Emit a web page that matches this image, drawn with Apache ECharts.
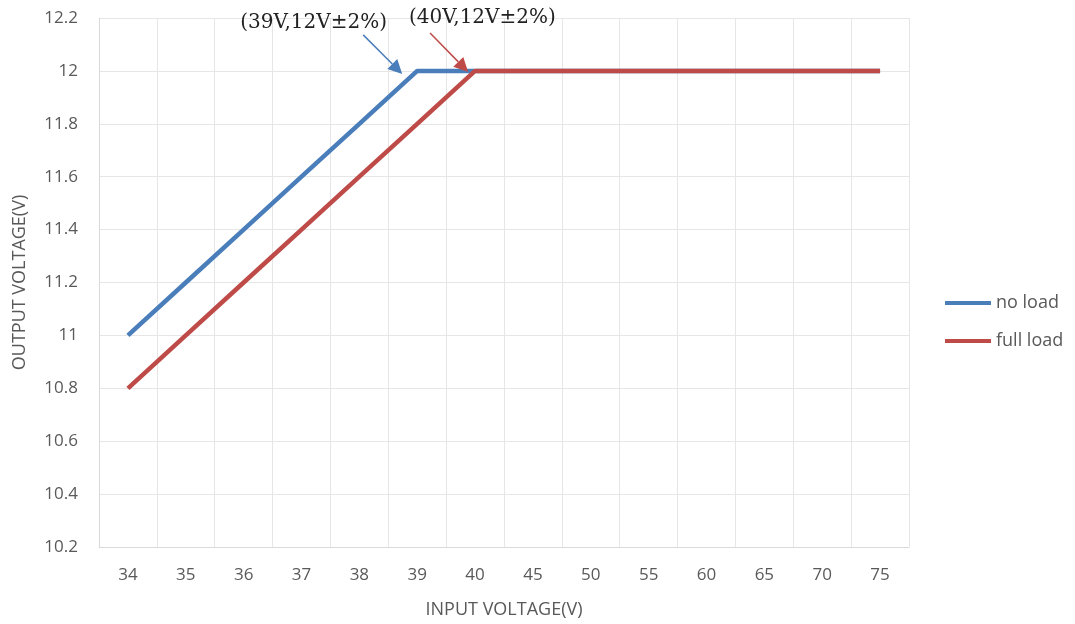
<!DOCTYPE html>
<html>
<head>
<meta charset="utf-8">
<script src="https://cdn.jsdelivr.net/npm/echarts@6/dist/echarts.min.js"></script>
<style>
  html, body { margin: 0; padding: 0; background: #fff; }
  #main { width: 1075px; height: 624px; }
</style>
</head>
<body>
<div id="main"></div>
<script>
var inputVoltage = ['34', '35', '36', '37', '38', '39', '40', '45', '50', '55', '60', '65', '70', '75'];
var noLoad = [11, 11.2, 11.4, 11.6, 11.8, 12, 12, 12, 12, 12, 12, 12, 12, 12];
var fullLoad = [10.8, 11.0, 11.2, 11.4, 11.6, 11.8, 12, 12, 12, 12, 12, 12, 12, 12];
var notes = ['(39V,12V\u00b12%)', '(40V,12V\u00b12%)'];

var fontFamily = '"Open Sans", "Noto Sans", sans-serif';
var blue = '#4a7ebb', red = '#be4b48';

var myChart = echarts.init(document.getElementById('main'));

var option = {
    animation: false,
    backgroundColor: '#fff',
    textStyle: { fontFamily: fontFamily },
    grid: { left: 99, right: 166, top: 18, bottom: 77, containLabel: false, outerBoundsMode: 'none' },
    legend: {
        orient: 'vertical',
        left: 940,
        top: 289,
        itemWidth: 46,
        itemHeight: 4,
        itemGap: 20,
        icon: 'rect',
        textStyle: { fontSize: 18, color: '#595959', fontFamily: fontFamily },
        data: ['no load', 'full load']
    },
    xAxis: {
        type: 'category',
        data: inputVoltage,
        boundaryGap: true,
        name: 'INPUT VOLTAGE(V)',
        nameLocation: 'middle',
        nameGap: 54,
        nameTextStyle: { fontSize: 18, color: '#595959' },
        axisLine: { lineStyle: { color: '#d9d9d9' } },
        axisTick: { show: false },
        axisLabel: { fontSize: 17, color: '#595959', margin: 20 },
        splitLine: { show: true, lineStyle: { color: '#e6e6e6' } }
    },
    yAxis: {
        type: 'value',
        min: 10.2,
        max: 12.2,
        interval: 0.2,
        name: 'OUTPUT VOLTAGE(V)',
        nameLocation: 'middle',
        nameGap: 70,
        nameTextStyle: { fontSize: 18, color: '#595959' },
        axisLine: { show: true, lineStyle: { color: '#d9d9d9' } },
        axisTick: { show: false },
        axisLabel: {
            fontSize: 17, color: '#595959', margin: 21,
            formatter: function (v) { return String(Math.round(v * 10) / 10); }
        },
        splitLine: { lineStyle: { color: '#e6e6e6' } }
    },
    series: [{
        name: 'no load',
        type: 'line',
        data: noLoad,
        symbol: 'none',
        color: blue,
        lineStyle: { width: 4.5, color: blue },
        z: 3
    }, {
        name: 'full load',
        type: 'line',
        data: fullLoad,
        symbol: 'none',
        color: red,
        lineStyle: { width: 4.5, color: red },
        z: 4
    }]
};

myChart.setOption(option);

// annotations anchored on the knee points
function arrow(from, to, color) {
    var ang = Math.atan2(to[1] - from[1], to[0] - from[0]);
    var len = 14, half = 7;
    var bx = to[0] - len * Math.cos(ang), by = to[1] - len * Math.sin(ang);
    var px = -Math.sin(ang) * half, py = Math.cos(ang) * half;
    return [{
        type: 'line',
        shape: { x1: from[0], y1: from[1], x2: bx, y2: by },
        style: { stroke: color, lineWidth: 1.5 },
        z: 10
    }, {
        type: 'polygon',
        shape: { points: [[to[0], to[1]], [bx + px, by + py], [bx - px, by - py]] },
        style: { fill: color },
        z: 10
    }];
}

var p39 = myChart.convertToPixel({ seriesIndex: 0 }, [5, 12]);
var p40 = myChart.convertToPixel({ seriesIndex: 1 }, [6, 12]);
var noteFont = '20px "DejaVu Serif", "Liberation Serif", serif';
var elements = [];
elements.push({
    type: 'text', x: p39[0] - 177, y: p39[1] - 58,
    style: { text: notes[0], font: noteFont, fill: '#222' }
});
elements.push({
    type: 'text', x: p40[0] - 66, y: p40[1] - 63,
    style: { text: notes[1], font: noteFont, fill: '#222' }
});
elements = elements.concat(arrow([p39[0] - 54, p39[1] - 36], [p39[0] - 15, p39[1] + 3], blue));
elements = elements.concat(arrow([p40[0] - 45, p40[1] - 38], [p40[0] - 7, p40[1] + 1], red));

myChart.setOption({ graphic: { elements: elements } });
</script>
</body>
</html>
